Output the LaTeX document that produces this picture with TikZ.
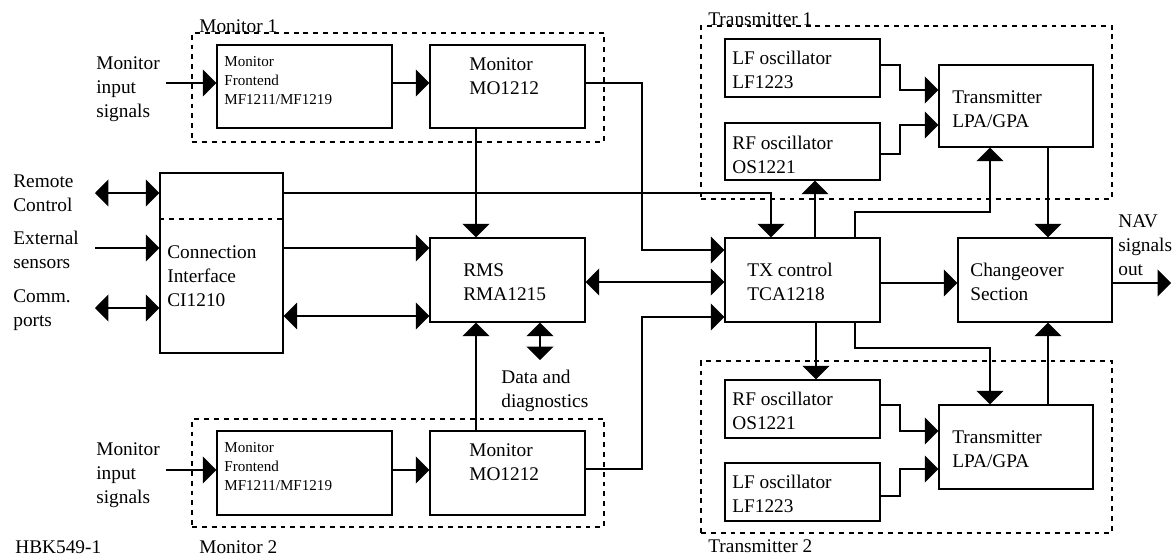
\documentclass[tikz,border=0pt]{standalone}
\usepackage{fontspec}
\setmainfont{Liberation Serif}
\usetikzlibrary{arrows.meta,fit}
\begin{document}
\begin{tikzpicture}[x=0.02cm,y=-0.02cm,
 box/.style={draw,line width=0.75pt,inner sep=0pt},
 grp/.style={draw,line width=0.75pt,inner sep=0pt,dash pattern=on 2.8pt off 2.8pt},
 txt/.style={anchor=west,inner sep=0pt,align=left,font=\fontsize{11}{13.8}\selectfont},
 stxt/.style={anchor=west,inner sep=0pt,align=left,font=\fontsize{8.6}{10.8}\selectfont},
 lbl/.style={anchor=base west,inner sep=0pt,font=\fontsize{11}{13.8}\selectfont},
 wire/.style={line width=0.75pt},
 arr/.style={wire,-{Triangle[length=0.27cm,width=0.54cm]}},
 darr/.style={wire,{Triangle[length=0.27cm,width=0.54cm]}-{Triangle[length=0.27cm,width=0.54cm]}}
]
\useasboundingbox (0,0) rectangle (1176,555);
\fill[white] (0,0) rectangle (1176,555);

% groups
\node[grp, fit={(192,33) (604,142)}] (g1) {};
\node[grp, fit={(192,419) (604,527)}] (g2) {};
\node[grp, fit={(701,26) (1112,199)}] (g3) {};
\node[grp, fit={(701,361) (1112,533)}] (g4) {};

% boxes
\node[box, fit={(217,45) (392,128)}] (mf1) {};
\node[box, fit={(430,45) (585,128)}] (mo1) {};
\node[box, fit={(160,173) (283,353)}] (ci) {};
\node[box, fit={(430,238) (585,322)}] (rms) {};
\node[box, fit={(217,431) (392,515)}] (mf2) {};
\node[box, fit={(430,431) (585,515)}] (mo2) {};
\node[box, fit={(725,238) (880,322)}] (tx) {};
\node[box, fit={(725,39) (880,97)}] (lf1) {};
\node[box, fit={(725,123) (880,180)}] (rf1) {};
\node[box, fit={(939,65) (1093,147)}] (tr1) {};
\node[box, fit={(958,238) (1112,322)}] (co) {};
\node[box, fit={(725,380) (880,438)}] (rf2) {};
\node[box, fit={(725,463) (880,521)}] (lf2) {};
\node[box, fit={(939,405) (1093,489)}] (tr2) {};

% CI divider
\draw[grp] (ci.west |- 0,219) -- (ci.east |- 0,219);

% free ends
\coordinate (in1) at (166,83);
\coordinate (in2) at (166,470);
\coordinate (rc) at (95,193);
\coordinate (es) at (95,248);
\coordinate (cp) at (95,308);
\coordinate (dd) at (540,360);
\coordinate (out) at (1171,283);

% texts
\node[txt] (tin1) at (96,89) {Monitor\\input\\signals};
\node[txt] (tin2) at (96,475) {Monitor\\input\\signals};
\node[txt] (trc) at (13,193) {Remote\\Control};
\node[txt] (tes) at (13,250) {External\\sensors};
\node[txt] (tcp) at (13,310) {Comm.\\ports};
\node[txt] (tci) at (167,276) {Connection\\Interface\\CI1210};
\node[stxt] (tmf1) at (224,81) {Monitor\\Frontend\\MF1211/MF1219};
\node[stxt] (tmf2) at (224,467) {Monitor\\Frontend\\MF1211/MF1219};
\node[txt] (tmo1) at (469,76) {Monitor\\MO1212};
\node[txt] (tmo2) at (469,462) {Monitor\\MO1212};
\node[txt] (trms) at (463,282) {RMS\\RMA1215};
\node[txt] (tdd) at (501,391) {Data and\\diagnostics};
\node[txt] (ttx) at (747,282) {TX control\\TCA1218};
\node[txt] (tlf1) at (732,70) {LF oscillator\\LF1223};
\node[txt] (trf1) at (732,155) {RF oscillator\\OS1221};
\node[txt] (ttr1) at (952,109) {Transmitter\\LPA/GPA};
\node[txt] (tco) at (970,282) {Changeover\\Section};
\node[txt] (tnav) at (1118,245) {NAV\\signals\\out};
\node[txt] (trf2) at (732,411) {RF oscillator\\OS1221};
\node[txt] (tlf2) at (732,494) {LF oscillator\\LF1223};
\node[txt] (ttr2) at (952,449) {Transmitter\\LPA/GPA};
\node[lbl] (lg1) at (199,32) {Monitor 1};
\node[lbl] (lg2) at (199,553) {Monitor 2};
\node[lbl] (lg3) at (708,25) {Transmitter 1};
\node[lbl] (lg4) at (708,552) {Transmitter 2};
\node[lbl] (hbk) at (15,553) {HBK549-1};

% connectors
\draw[arr] (in1) -- (mf1.west |- in1);
\draw[arr] (in2) -- (mf2.west |- in2);
\draw[arr] (mf1.east |- 0,83) -- (mo1.west |- 0,83);
\draw[arr] (mf2.east |- 0,470) -- (mo2.west |- 0,470);
\draw[arr] (mo1.south -| 476,0) -- (rms.north -| 476,0);
\draw[arr] (mo2.north -| 476,0) -- (rms.south -| 476,0);
\draw[arr] (mo1.east |- 0,83) -| (642,250) -- (tx.west |- 0,250);
\draw[arr] (mo2.east |- 0,469) -| (642,317) -- (tx.west |- 0,317);
\draw[arr] (ci.east |- 0,193) -| (tx.north -| 771,0);
\draw[darr] (rc) -- (ci.west |- rc);
\draw[arr] (es) -- (ci.west |- es);
\draw[darr] (cp) -- (ci.west |- cp);
\draw[arr] (ci.east |- 0,248) -- (rms.west |- 0,248);
\draw[darr] (ci.east |- 0,316) -- (rms.west |- 0,316);
\draw[darr] (rms.east |- 0,282) -- (tx.west |- 0,282);
\draw[darr] (dd) -- (rms.south -| dd);
\draw[arr] (tx.north -| 815,0) -- (rf1.south -| 815,0);
\draw[arr] (tx.north -| 855,0) |- (990,212) -- (tr1.south -| 990,0);
\draw[arr] (tr1.south -| 1048,0) -- (co.north -| 1048,0);
\draw[arr] (tx.east |- 0,283) -- (co.west |- 0,283);
\draw[arr] (co.east |- out) -- (out);
\draw[arr] (lf1.east |- 0,65) -| (900,90) -- (tr1.west |- 0,90);
\draw[arr] (rf1.east |- 0,154) -| (900,125) -- (tr1.west |- 0,125);
\draw[arr] (tx.south -| 816,0) -- (rf2.north -| 816,0);
\draw[arr] (tx.south -| 855,0) |- (990,348) -- (tr2.north -| 990,0);
\draw[arr] (tr2.north -| 1048,0) -- (co.south -| 1048,0);
\draw[arr] (rf2.east |- 0,405) -| (900,431) -- (tr2.west |- 0,431);
\draw[arr] (lf2.east |- 0,496) -| (900,469) -- (tr2.west |- 0,469);
\end{tikzpicture}
\end{document}
